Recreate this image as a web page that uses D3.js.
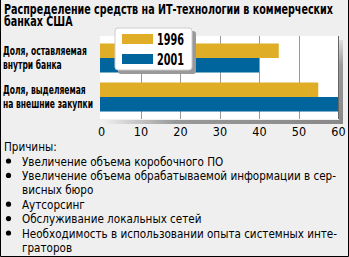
<!DOCTYPE html>
<html>
<head>
<meta charset="utf-8">
<script src="https://cdn.jsdelivr.net/npm/d3@7"></script>
<style>
  body { margin: 0; background: #fff; }
  svg { display: block; }
</style>
</head>
<body>
<div id="chart"></div>
<script>
var titleLines = ["Распределение средств на ИТ-технологии в коммерческих", "банках США"];
var categories = [["Доля, оставляемая", "внутри банка"], ["Доля, выделяемая", "на внешние закупки"]];
var seriesNames = ["1996", "2001"];
var values1996 = [45, 55];
var values2001 = [40, 60];
var ticks = [0, 10, 20, 30, 40, 50, 60];
var reasonsHead = "Причины:";
var reasons = [
    ["Увеличение объема коробочного ПО"],
    ["Увеличение объема обрабатываемой информации в сер-", "висных бюро"],
    ["Аутсорсинг"],
    ["Обслуживание локальных сетей"],
    ["Необходимость в использовании опыта системных инте-", "граторов"]
];

var W = 349, H = 257;
var colors = {"1996": "#dfad26", "2001": "#00659d"};
var narrow = "'Liberation Sans Narrow', 'DejaVu Sans Condensed', sans-serif";

// squeeze a group of texts by one common factor so the widest one gets the target width
function squeeze(sel, target){
    var widest = 0;
    sel.each(function(){ widest = Math.max(widest, this.getComputedTextLength()); });
    var k = Math.min(1, target / widest);
    sel.each(function(){
        d3.select(this)
            .attr("textLength", this.getComputedTextLength() * k)
            .attr("lengthAdjust", "spacingAndGlyphs");
    });
}

var svg = d3.select("#chart").append("svg")
    .attr("width", W)
    .attr("height", H);

var defs = svg.append("defs");
var sg = defs.append("linearGradient").attr("id", "shadowB").attr("x1", 0).attr("x2", 1);
sg.append("stop").attr("offset", "0").attr("stop-color", "#eee");
sg.append("stop").attr("offset", "0.3").attr("stop-color", "#999");
sg.append("stop").attr("offset", "1").attr("stop-color", "#888");
var sr = defs.append("linearGradient").attr("id", "shadowR").attr("x1", 0).attr("x2", 0).attr("y1", 0).attr("y2", 1);
sr.append("stop").attr("offset", "0").attr("stop-color", "#ddd");
sr.append("stop").attr("offset", "0.3").attr("stop-color", "#999");
sr.append("stop").attr("offset", "1").attr("stop-color", "#888");

// background + frame
svg.append("rect").attr("width", W).attr("height", H).attr("fill", "#efefef");
svg.append("path")
    .attr("d", "M0.5,0 V" + (H - 0.5) + " H" + (W - 0.5) + " V0")
    .attr("fill", "none").attr("stroke", "#000").attr("stroke-width", 1);

// title
var title = svg.append("g").selectAll("text")
    .data(titleLines)
    .enter().append("text")
    .attr("x", 4)
    .attr("y", function(d, i){ return 14 + i * 12; })
    .style("font-family", narrow)
    .style("font-weight", "bold")
    .style("font-size", "13.5px")
    .text(function(d){ return d; });
squeeze(title, 329);

// plot area
var plot = {left: 100, right: 338, top: 36, bottom: 119};
var x = d3.scaleLinear().domain([0, 60]).range([101, 338]);
var y = d3.scaleBand().domain(d3.range(categories.length)).range([plot.top, plot.bottom])
    .paddingInner(0.256).paddingOuter(0.192);
var ySub = d3.scaleBand().domain(seriesNames).range([0, y.bandwidth()]);

// shadows
svg.append("rect").attr("x", plot.left + 4).attr("y", plot.bottom + 1)
    .attr("width", plot.right - plot.left).attr("height", 4).attr("fill", "url(#shadowB)");
svg.append("rect").attr("x", plot.right + 1).attr("y", plot.top + 4)
    .attr("width", 4).attr("height", plot.bottom - plot.top + 1).attr("fill", "url(#shadowR)");
svg.append("rect").attr("x", plot.left).attr("y", plot.top)
    .attr("width", plot.right - plot.left).attr("height", plot.bottom - plot.top)
    .attr("fill", "#fff");

// grid
svg.append("g").selectAll("line")
    .data(ticks.slice(1))
    .enter().append("line")
    .attr("x1", function(d){ return Math.round(x(d)) + 0.5; })
    .attr("x2", function(d){ return Math.round(x(d)) + 0.5; })
    .attr("y1", plot.top).attr("y2", plot.bottom)
    .attr("stroke", function(d){ return d == 60 ? "#666" : "#999"; })
    .attr("stroke-width", 1);

// bars
var rows = categories.map(function(c, i){
    return {i: i, vals: [{s: "1996", v: values1996[i]}, {s: "2001", v: values2001[i]}]};
});
var grp = svg.append("g").selectAll("g")
    .data(rows)
    .enter().append("g")
    .attr("transform", function(d){ return "translate(0," + y(d.i) + ")"; });
grp.selectAll("rect")
    .data(function(d){ return d.vals; })
    .enter().append("rect")
    .attr("x", x(0) - 1)
    .attr("y", function(d){ return ySub(d.s); })
    .attr("width", function(d){ return x(d.v) - x(0) + 1; })
    .attr("height", ySub.bandwidth())
    .attr("fill", function(d){ return colors[d.s]; });

// category labels
var lab = svg.append("g").selectAll("g")
    .data(categories)
    .enter().append("g");
var labLines = lab.selectAll("text")
    .data(function(d, i){ return d.map(function(t, j){ return {t: t, i: i, j: j}; }); })
    .enter().append("text")
    .attr("x", 3)
    .attr("y", function(d){ return y(d.i) + 12 + d.j * 13.5; })
    .style("font-family", narrow)
    .style("font-weight", "bold")
    .style("font-size", "13px")
    .text(function(d){ return d.t; });
squeeze(labLines, 90);

// x axis
var xAxis = svg.append("g")
    .attr("transform", "translate(0," + (plot.bottom + 5) + ")")
    .call(d3.axisBottom(x).tickValues(ticks).tickSize(0).tickPadding(3));
xAxis.select(".domain").remove();
xAxis.selectAll("text")
    .style("font-family", "'DejaVu Sans Condensed', sans-serif")
    .style("font-size", "12.5px")
    .attr("fill", "#000");

// legend
var lg = svg.append("g").attr("transform", "translate(115,28)");
lg.append("rect").attr("x", 3).attr("y", 3).attr("width", 78).attr("height", 43)
    .attr("rx", 3).attr("fill", "#999");
lg.append("rect").attr("width", 77).attr("height", 42).attr("rx", 3)
    .attr("fill", "#fff").attr("stroke", "#ccc");
var li = lg.selectAll(".item")
    .data(seriesNames)
    .enter().append("g")
    .attr("transform", function(d, i){ return "translate(0," + (i * 20) + ")"; });
li.append("rect").attr("x", 7).attr("y", 6).attr("width", 31).attr("height", 10)
    .attr("fill", function(d){ return colors[d]; });
var lt = li.append("text").attr("x", 42).attr("y", 17)
    .style("font-family", narrow)
    .style("font-weight", "bold")
    .style("font-size", "15px")
    .text(function(d){ return d; });
squeeze(lt, 27);

// reasons
var rf = "'Liberation Sans Narrow', 'DejaVu Sans Condensed', sans-serif";
var rg = svg.append("g")
    .style("font-family", rf).style("font-size", "13px");
rg.append("text").attr("x", 4).attr("y", 151).text(reasonsHead);
var lineY = 165.5, step = 14.4;
reasons.forEach(function(r){
    rg.append("circle").attr("cx", 8.5).attr("cy", lineY - 4.5).attr("r", 2.6).attr("fill", "#000");
    r.forEach(function(t){
        rg.append("text").attr("x", 22).attr("y", lineY).text(t);
        lineY += step;
    });
});
squeeze(rg.selectAll("text"), 315);
</script>
</body>
</html>
